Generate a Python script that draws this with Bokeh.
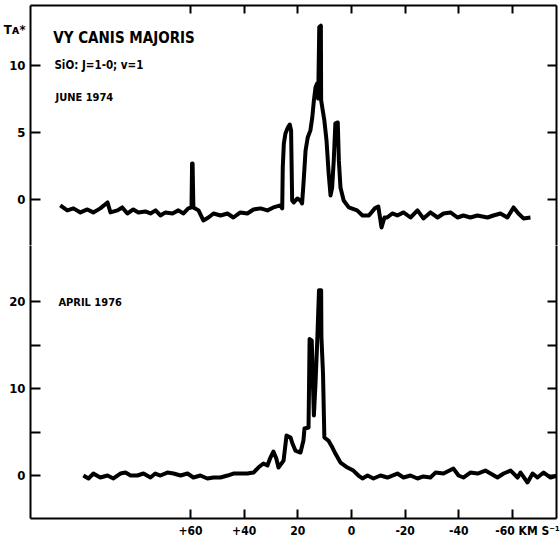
from bokeh.plotting import figure
from bokeh.layouts import column
from bokeh.models import Range1d, LinearAxis, FixedTicker, Label
from bokeh.embed import file_html
from bokeh.resources import INLINE

# SiO J=1-0, v=1 maser spectra of VY CMa: LSR velocity (km/s) vs antenna temperature T_A*
v_1974 = [108.5, 105.9, 103.6, 101.0, 98.4, 96.2, 93.6, 90.9, 89.8, 87.2, 85.4, 83.5,
          81.3, 79.4, 76.8, 74.9, 73.0, 71.2, 69.3, 66.7, 64.5, 62.6, 60.8, 59.6,
          59.4, 59.2, 58.9, 57.0, 55.2, 53.3, 51.4, 48.8, 46.2, 44.0, 41.4, 38.8,
          36.5, 33.9, 31.3, 29.1, 26.5, 25.8, 25.6, 25.2, 24.6, 23.7, 23.0, 22.5,
          22.1, 21.5, 20.2, 19.0, 18.4, 17.8, 17.1, 16.3, 15.3, 14.6, 14.0, 13.4,
          12.8, 12.4, 12.0, 11.4, 11.3, 10.1, 9.3, 8.5, 7.8, 7.2, 6.6, 6.0,
          5.1, 4.7, 4.1, 2.9, 1.0, -2.1, -4.1, -6.5, -8.7, -10.0, -11.2, -12.3,
          -13.3, -15.2, -17.1, -19.4, -22.0, -24.6, -26.8, -29.4, -32.1, -34.3,
          -36.9, -39.5, -41.7, -44.3, -46.9, -50.7, -52.9, -55.5, -58.1, -60.4,
          -62.2, -64.1, -66.7]
t_1974 = [-0.41, -0.78, -0.63, -0.93, -0.71, -0.93, -0.63, -0.19, -0.93, -0.78, -0.56, -1.01,
          -0.71, -0.93, -0.86, -1.01, -0.78, -1.16, -0.93, -1.01, -0.78, -1.01, -0.63, -0.56,
          2.72, 2.72, -0.56, -0.78, -1.53, -1.31, -1.01, -1.16, -1.01, -1.31, -0.93, -1.01,
          -0.71, -0.63, -0.78, -0.56, -0.41, -0.63, 2.43, 4.20, 4.96, 5.40, 5.63, 5.19,
          -0.04, -0.19, 0.11, -0.04, -0.26, 1.46, 3.69, 4.66, 5.19, 6.16, 7.43, 8.40,
          8.69, 7.57, 12.9, 13.0, 7.43, 5.93, 4.44, 1.98, 0.34, 0.93, 2.95, 5.71,
          5.78, 2.95, 0.93, -0.04, -0.56, -0.78, -1.16, -1.16, -0.63, -0.49, -2.05, -1.31,
          -1.31, -1.01, -1.16, -0.93, -1.31, -0.78, -1.38, -0.93, -1.31, -1.01,
          -0.93, -1.31, -1.16, -1.31, -1.16, -1.31, -1.16, -1.01, -1.31, -0.56,
          -1.01, -1.38, -1.31]

v_1976 = [99.9, 98.0, 96.2, 93.6, 90.9, 88.7, 86.1, 84.2, 82.3, 79.8, 77.5, 74.9,
          73.1, 71.2, 68.6, 66.3, 63.7, 61.1, 58.9, 56.3, 53.7, 51.4, 48.8, 46.2,
          44.0, 41.4, 38.8, 36.5, 34.7, 32.8, 31.3, 30.2, 29.1, 28.0, 27.2, 25.3,
          24.2, 22.7, 22.0, 20.9, 19.0, 17.9, 17.5, 16.0, 15.6, 14.8, 14.4, 14.0,
          13.4, 12.7, 12.1, 11.3, 11.2, 10.6, 10.1, 8.6, 7.1, 6.0, 4.1, 1.5,
          -0.7, -2.6, -4.1, -6.0, -8.2, -10.8, -13.4, -17.1, -19.4, -22.0, -24.6, -26.8,
          -29.4, -31.3, -34.3, -38.0, -39.9, -41.7, -44.3, -47.0, -49.9, -51.8, -54.4, -56.7,
          -59.3, -61.9, -63.0, -65.6, -67.5, -69.3, -71.6, -74.2, -76.8]
t_1976 = [0.0, -0.34, 0.23, -0.23, 0.0, -0.34, 0.23, 0.34, 0.0, 0.0, 0.23, -0.23,
          0.23, 0.0, 0.34, 0.23, 0.0, 0.23, -0.23, 0.0, -0.34, -0.23, -0.23, 0.0,
          0.23, 0.23, 0.23, 0.34, 0.92, 1.38, 1.15, 2.07, 2.76, 1.95, 0.92, 1.72,
          4.60, 4.37, 3.68, 2.87, 2.64, 4.02, 5.40, 5.52, 15.7, 15.5, 10.9, 6.9,
          10.6, 15.9, 21.3, 21.3, 15.9, 11.7, 4.37, 4.02, 3.22, 2.53, 1.49, 0.92,
          0.57, 0.0, -0.34, 0.0, -0.34, 0.0, -0.23, 0.23, -0.23, 0.0, -0.34, -0.11,
          -0.23, 0.34, 0.23, 0.80, 0.0, -0.23, 0.34, 0.23, 0.57, 0.23, -0.23, 0.23,
          0.57, -0.23, 0.34, -0.80, 0.23, -0.23, 0.34, -0.23, 0.0]

x_ticks = [60, 40, 20, 0, -20, -40, -60]
x_tick_labels = ["+60", "+40", "20", "0", "-20", "-40",
                 "\u2007\u2007\u2007\u2007-60 KM S\u207b\u00b9"]
top_y_ticks = [0, 5, 10]
top_y_labels = ["0", "5", "T\u1d00*\n\n10\n\n"]
bottom_y_ticks = [0, 10, 20]
bottom_y_minor = [5, 15]
bottom_y_labels = ["0", "10", "20"]

FONT = "DejaVu Sans Condensed"
INK = "#000000"

x_range = Range1d(119.6, -76.4)


def frame_axis(ticks, labels=None, minor=(), tick_len=9, size="13px"):
    ax = LinearAxis(ticker=FixedTicker(ticks=ticks, minor_ticks=list(minor)))
    ax.axis_line_width = 2
    ax.axis_line_color = INK
    ax.major_tick_line_width = 2
    ax.major_tick_line_color = INK
    ax.major_tick_in = tick_len
    ax.major_tick_out = 0
    ax.minor_tick_line_width = 2
    ax.minor_tick_line_color = INK
    ax.minor_tick_in = tick_len
    ax.minor_tick_out = 0
    ax.major_label_text_font = FONT
    ax.major_label_text_font_style = "bold"
    ax.major_label_text_font_size = size
    ax.major_label_text_color = INK
    ax.major_label_standoff = 5
    if labels is None:
        # frame edge only: tick marks without numbers
        ax.major_label_overrides = {t: "" for t in ticks}
        ax.major_label_text_color = None
        ax.major_label_standoff = 0
    else:
        ax.major_label_overrides = {t: s for t, s in zip(ticks, labels)}
    return ax


def panel(height, y_range, border_top, border_bottom):
    p = figure(width=560, height=height, x_range=x_range, y_range=y_range,
               output_backend="svg", toolbar_location=None,
               x_axis_location=None, y_axis_location=None,
               min_border_left=30, min_border_right=4,
               min_border_top=border_top, min_border_bottom=border_bottom)
    p.outline_line_color = None
    p.xgrid.visible = False
    p.ygrid.visible = False
    p.background_fill_color = "white"
    p.border_fill_color = "white"
    return p


def add_text(p, x, y, text, size):
    p.add_layout(Label(x=x, y=y, text=text,
                       text_font=FONT, text_font_style="bold",
                       text_font_size=size, text_color=INK,
                       text_align="left", text_baseline="alphabetic"))


# upper panel: June 1974
top = panel(245, Range1d(-3.40, 14.51), 5, 0)
top.add_layout(frame_axis(top_y_ticks, top_y_labels, tick_len=10), "left")
top.add_layout(frame_axis(top_y_ticks), "right")
top.add_layout(frame_axis(x_ticks, tick_len=8), "above")
top.line(v_1974, t_1974, line_width=4, line_color=INK, line_join="round")

add_text(top, 111.1, 12.05, "VY CANIS MAJORIS", "15px")
add_text(top, 110.7, 10.04, "SiO: J=1-0; v=1", "11.5px")
add_text(top, 110.3, 7.65, "JUNE 1974", "11px")

# lower panel: April 1976
bottom = panel(296, Range1d(-4.94, 26.44), 0, 23)
bottom.add_layout(frame_axis(bottom_y_ticks, bottom_y_labels, minor=bottom_y_minor,
                             tick_len=10), "left")
bottom.add_layout(frame_axis(bottom_y_ticks, minor=bottom_y_minor), "right")
bottom.add_layout(frame_axis(x_ticks, x_tick_labels, tick_len=9, size="12px"), "below")
bottom.line(v_1976, t_1976, line_width=4, line_color=INK, line_join="round")

add_text(bottom, 109.2, 19.89, "APRIL 1976", "11px")

p = column(top, bottom, spacing=0)
open("out.html", "w").write(file_html(p, INLINE))
